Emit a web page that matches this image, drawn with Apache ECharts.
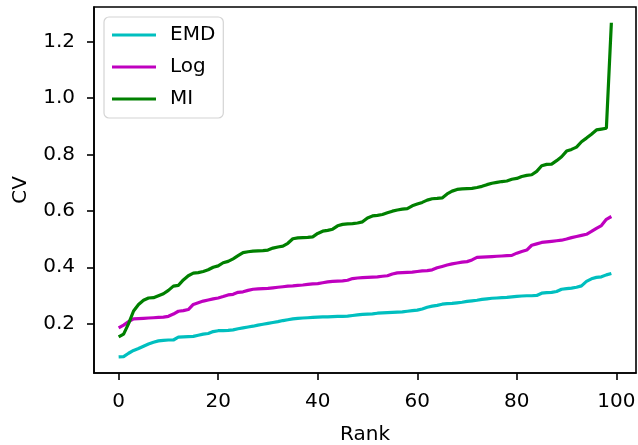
<!DOCTYPE html>
<html>
<head>
<meta charset="utf-8">
<script src="https://cdn.jsdelivr.net/npm/echarts@6/dist/echarts.min.js"></script>
<style>html,body{margin:0;padding:0;background:#fff}#c{width:638px;height:445px}</style>
</head>
<body>
<div id="c"></div>
<script>
const seriesNames = ['EMD', 'Log', 'MI'];
const seriesColors = ['#00bfbf', '#bf00bf', '#008000'];
const xTicks = [0, 20, 40, 60, 80, 100];
const yTicks = [0.2, 0.4, 0.6, 0.8, 1.0, 1.2];

const emd = [0.082,0.083,0.095,0.105,0.112,0.120,0.128,0.134,0.139,0.141,
0.142,0.142,0.152,0.153,0.154,0.155,0.159,0.163,0.165,0.172,
0.175,0.175,0.176,0.178,0.182,0.185,0.188,0.191,0.195,0.198,
0.201,0.204,0.207,0.211,0.214,0.217,0.219,0.220,0.221,0.222,
0.223,0.224,0.224,0.225,0.226,0.226,0.227,0.229,0.231,0.233,
0.234,0.235,0.237,0.238,0.239,0.240,0.241,0.242,0.244,0.246,
0.248,0.252,0.258,0.262,0.265,0.269,0.271,0.272,0.274,0.276,
0.279,0.281,0.283,0.286,0.288,0.290,0.291,0.292,0.293,0.295,
0.297,0.298,0.299,0.299,0.300,0.308,0.310,0.311,0.314,0.322,
0.324,0.326,0.329,0.334,0.350,0.359,0.364,0.366,0.373,0.378];

const logv = [0.185,0.195,0.207,0.217,0.218,0.219,0.220,0.221,0.222,0.223,
0.226,0.234,0.244,0.246,0.250,0.268,0.274,0.280,0.284,0.288,
0.291,0.296,0.302,0.304,0.311,0.313,0.318,0.322,0.323,0.324,
0.325,0.327,0.329,0.331,0.333,0.334,0.336,0.337,0.339,0.341,
0.342,0.345,0.348,0.350,0.351,0.352,0.354,0.360,0.362,0.363,
0.364,0.365,0.366,0.368,0.370,0.376,0.380,0.381,0.382,0.383,
0.385,0.387,0.388,0.391,0.398,0.403,0.408,0.412,0.415,0.418,
0.420,0.426,0.435,0.436,0.437,0.438,0.439,0.440,0.441,0.442,
0.450,0.456,0.461,0.478,0.483,0.488,0.490,0.492,0.494,0.496,
0.500,0.505,0.509,0.513,0.517,0.527,0.538,0.548,0.570,0.580];

const mi = [0.153,0.163,0.200,0.245,0.268,0.283,0.291,0.292,0.299,0.306,
0.318,0.333,0.336,0.355,0.370,0.379,0.381,0.385,0.391,0.400,
0.405,0.416,0.421,0.430,0.441,0.452,0.455,0.457,0.458,0.459,
0.461,0.468,0.472,0.475,0.485,0.501,0.504,0.505,0.506,0.508,
0.520,0.528,0.531,0.535,0.547,0.552,0.554,0.555,0.557,0.561,
0.575,0.582,0.584,0.587,0.593,0.599,0.603,0.606,0.608,0.618,
0.624,0.630,0.638,0.643,0.644,0.646,0.660,0.670,0.676,0.678,
0.679,0.680,0.683,0.687,0.693,0.698,0.701,0.704,0.706,0.712,
0.715,0.722,0.726,0.728,0.740,0.760,0.765,0.766,0.778,0.792,
0.812,0.818,0.826,0.845,0.858,0.872,0.887,0.890,0.893,1.267];

const allValues = [emd, logv, mi];
const FONT = 'DejaVu Sans';

const chart = echarts.init(document.getElementById('c'), null, {renderer: 'canvas'});
chart.setOption({
  animation: false,
  backgroundColor: '#ffffff',
  textStyle: {fontFamily: FONT},
  grid: {left: 94, right: 2, top: 7, bottom: 72, show: true, borderColor: '#000', borderWidth: 1.6,
    containLabel: false, outerBoundsMode: 'none'},
  legend: {
    orient: 'vertical', left: 104, top: 17,
    data: seriesNames,
    icon: 'rect', itemWidth: 44, itemHeight: 3, itemGap: 12,
    padding: [8, 8, 9, 8],
    borderColor: '#d4d4d4', borderWidth: 1.2, borderRadius: 5,
    backgroundColor: 'rgba(255,255,255,0.8)',
    textStyle: {fontFamily: FONT, fontSize: 20, color: '#000', padding: [0, 0, 0, 9]}
  },
  xAxis: {
    type: 'value', min: -4.95, max: 103.95,
    name: 'Rank', nameLocation: 'middle', nameGap: 52,
    nameTextStyle: {fontFamily: FONT, fontSize: 20, color: '#000'},
    splitLine: {show: false},
    axisLine: {show: true, onZero: false, lineStyle: {color: '#000', width: 1.6}},
    axisTick: {show: true, length: 7, inside: false, customValues: xTicks, lineStyle: {color: '#000', width: 1.6}},
    axisLabel: {customValues: xTicks, fontFamily: FONT, fontSize: 20, color: '#000', margin: 19,
      formatter: v => String(Math.round(v))}
  },
  yAxis: {
    type: 'value', min: 0.025, max: 1.323,
    name: 'CV', nameLocation: 'middle', nameGap: 63, nameRotate: 90,
    nameTextStyle: {fontFamily: FONT, fontSize: 20, color: '#000'},
    splitLine: {show: false},
    axisLine: {show: true, onZero: false, lineStyle: {color: '#000', width: 1.6}},
    axisTick: {show: true, length: 7, inside: false, customValues: yTicks, lineStyle: {color: '#000', width: 1.6}},
    axisLabel: {customValues: yTicks, fontFamily: FONT, fontSize: 20, color: '#000', margin: 19,
      formatter: v => v.toFixed(1)}
  },
  series: seriesNames.map((n, i) => ({
    name: n, type: 'line', showSymbol: false, symbol: 'none',
    data: allValues[i].map((v, k) => [k, v]),
    lineStyle: {color: seriesColors[i], width: 3.2},
    itemStyle: {color: seriesColors[i]},
    z: 2 + i
  }))
});
</script>
</body>
</html>
